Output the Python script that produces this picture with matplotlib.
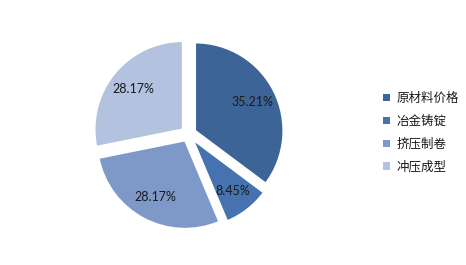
import matplotlib
matplotlib.use("Agg")
import matplotlib.pyplot as plt

# 成本构成
labels = ["原材料价格", "冶金铸锭", "挤压制卷", "冲压成型"]
values = [35.21, 8.45, 28.17, 28.17]
colors = ["#3C6496", "#4673B0", "#7E99C8", "#B3C2DE"]

W, H = 466, 265
fig = plt.figure(figsize=(W / 100, H / 100), dpi=100)
ax = fig.add_axes([0, 0, 1, 1])

R = 88
# explode 在 matplotlib 里是数据单位（像素）
wedges, texts, autotexts = ax.pie(
    values,
    colors=colors,
    startangle=90,
    counterclock=False,
    explode=[7.5] * 4,
    radius=R,
    center=(188.5, H - 134),
    autopct="%.2f%%",
    pctdistance=0.73,
    wedgeprops=dict(edgecolor="white", linewidth=1.2),
    textprops=dict(family="Lato", fontsize=9, color="#1a1a1a"),
    frame=True,
)
ax.set_xlim(0, W)
ax.set_ylim(0, H)
ax.set_aspect("equal")
ax.axis("off")

leg = ax.legend(
    wedges, labels,
    loc="upper left",
    bbox_to_anchor=(372 / W, 1 - 81 / H),
    bbox_transform=fig.transFigure,
    frameon=False,
    handlelength=0.5, handleheight=0.5,
    handletextpad=0.55,
    labelspacing=0.78,
    prop=dict(family=["Noto Sans CJK SC", "DejaVu Sans"], size=9),
)
for t in leg.get_texts():
    t.set_color("#1a1a1a")
for h in leg.legend_handles:
    h.set_edgecolor("none")

fig.savefig("out.png", dpi=100, facecolor="white")
